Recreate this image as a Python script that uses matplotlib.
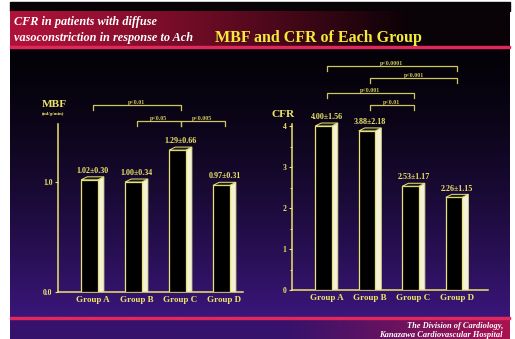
import numpy as np
import matplotlib
matplotlib.use('Agg')
import matplotlib.pyplot as plt
from matplotlib.patches import Polygon, Rectangle

plt.rcParams['font.family'] = ['Liberation Serif', 'DejaVu Serif']

# data
groups = ['Group A', 'Group B', 'Group C', 'Group D']
mbf_mean = [1.02, 1.00, 1.29, 0.97]
mbf_sd = [0.30, 0.34, 0.66, 0.31]
cfr_mean = [4.00, 3.88, 2.53, 2.26]
cfr_sd = [1.56, 2.18, 1.17, 1.15]
mbf_pairs = [(0, 2, 'p<0.01'), (1, 2, 'p<0.05'), (2, 3, 'p<0.005')]
cfr_pairs = [(0, 3, 'p<0.0001'), (1, 3, 'p<0.001'), (0, 2, 'p<0.001'), (1, 2, 'p<0.01')]

W, H = 515, 339
YEL = '#ece46a'
BRK = '#cdc65c'

fig = plt.figure(figsize=(W / 100, H / 100), dpi=100)
fig.patch.set_facecolor('white')


def px(x, y):
    return x / W, 1 - y / H


# ---------- background slide ----------
bg = fig.add_axes([0, 0, 1, 1])
bg.set_xlim(0, W)
bg.set_ylim(H, 0)
bg.axis('off')

# main dark area: black at top, purple toward bottom
t = np.linspace(0, 1, 200)[:, None]
top = np.array([4, 2, 8]) / 255
bot = np.array([58, 22, 122]) / 255
grad = top + (bot - top) * (t ** 1.5)[..., None]
grad = np.repeat(grad, 2, axis=1)
bg.imshow(grad, extent=[10, 510, 317, 47], aspect='auto', zorder=0)

# black strip above title band
bg.add_patch(Rectangle((10, 2), 500, 9, color='#080306', zorder=1))

# red title band fading to dark on the right
u = np.linspace(0, 1, 300)[None, :]
c0 = np.array([176, 18, 58]) / 255
c1 = np.array([10, 2, 6]) / 255
band = c0 + (c1 - c0) * np.clip(u / 0.8, 0, 1)[..., None] ** 1.2
band = np.repeat(band, 2, axis=0)
bg.imshow(band, extent=[10, 510, 46, 11], aspect='auto', zorder=1)
bg.add_patch(Rectangle((10, 45.5), 500, 2.2, color='#e0285a', zorder=2))

# bottom band purple -> magenta
c2 = np.array([54, 18, 108]) / 255
c3 = np.array([170, 18, 80]) / 255
band2 = c2 + (c3 - c2) * (np.clip((u - 0.55) / 0.45, 0, 1) ** 1.1)[..., None]
band2 = np.repeat(band2, 2, axis=0)
bg.imshow(band2, extent=[10, 510, 339, 318], aspect='auto', zorder=1)
bg.add_patch(Rectangle((10, 316.5), 500, 2, color='#e0285a', zorder=2))

# titles
fig.text(*px(14, 25), 'CFR in patients with diffuse', color='white',
         fontsize=8.8, fontweight='bold', fontstyle='italic')
fig.text(*px(14, 41), 'vasoconstriction in response to Ach', color='white',
         fontsize=8.8, fontweight='bold', fontstyle='italic')
fig.text(*px(215, 42), 'MBF and CFR of Each Group', color='#f2ea3c',
         fontsize=11.5, fontweight='bold')
fig.text(*px(503, 328), 'The Division of Cardiology,', color='white', ha='right',
         fontsize=6, fontweight='bold', fontstyle='italic')
fig.text(*px(503, 337), 'Kanazawa Cardiovascular Hospital', color='white', ha='right',
         fontsize=6, fontweight='bold', fontstyle='italic')


def make_axes(x0, x1, ybase, ytop, xlim, ylim):
    ax = fig.add_axes([x0 / W, (H - ybase) / H, (x1 - x0) / W, (ybase - ytop) / H])
    ax.set_xlim(*xlim)
    ax.set_ylim(*ylim)
    ax.patch.set_visible(False)
    for s in ['top', 'right']:
        ax.spines[s].set_visible(False)
    for s in ['left', 'bottom']:
        ax.spines[s].set_color(YEL)
        ax.spines[s].set_linewidth(1.1)
    ax.tick_params(colors=YEL, labelsize=5.5, length=2, width=0.8, pad=2)
    ax.tick_params(axis='x', length=0, pad=3, labelsize=6.5)
    return ax


def draw_bars(ax, means, sds, depth_px=3):
    y0, y1 = ax.get_ylim()
    h_px = ax.get_position().height * H
    dy = depth_px * (y1 - y0) / h_px
    xl_off, xr_off, dx = -0.26, 0.12, 0.14
    for i, (m, s) in enumerate(zip(means, sds)):
        xl, xr = i + xl_off, i + xr_off
        side = Polygon([(xr, 0), (xr + dx, 0), (xr + dx, m + dy), (xr, m)],
                       closed=True, facecolor='#f3f1d8', edgecolor='#d8d27a', lw=0.6, zorder=3)
        ax.add_patch(side)
        ax.bar(i + (xl_off + xr_off) / 2, m, width=xr - xl, color='black',
               edgecolor='#e8e27a', linewidth=0.9, zorder=4)
        topf = Polygon([(xl, m), (xr, m), (xr + dx, m + dy), (xl + dx, m + dy)],
                       closed=True, facecolor='#1a1a10', edgecolor='#e8e27a', lw=0.7, zorder=5)
        ax.add_patch(topf)
        ax.text(i, m + dy * 1.6, f'{m:.2f}\u00b1{s:.2f}', ha='center', va='bottom',
                color=YEL, fontsize=5.8, fontweight='bold', zorder=6)


def draw_brackets(ax, pairs, levels, tick):
    for (a, b, txt), y in zip(pairs, levels):
        ax.plot([a, a, b, b], [y - tick, y, y, y - tick], color=BRK, lw=0.9,
                clip_on=False, zorder=2)
        ax.text((a + b) / 2, y + tick * 0.1, txt, ha='center', va='bottom',
                color=BRK, fontsize=4.3, fontweight='bold')


xpos = np.arange(len(groups))

# ---------- MBF panel ----------
ax1 = make_axes(58, 243, 292, 60, (-0.784, 3.42), (0, 232 / 110))
ax1.spines['left'].set_bounds(0, 1.53)
ax1.set_yticks([0, 1.0])
ax1.set_yticklabels(['0.0', '1.0'])
ax1.set_xticks(xpos)
ax1.set_xticklabels(groups)
for lab in ax1.get_yticklabels() + ax1.get_xticklabels():
    lab.set_fontweight('bold')
draw_bars(ax1, mbf_mean, mbf_sd)
draw_brackets(ax1, mbf_pairs, [1.70, 1.55, 1.55], 0.045)
fig.text(*px(42, 107), 'MBF', color=YEL, fontsize=8.2, fontweight='bold')
fig.text(*px(42, 115), '(ml/g/min)', color=YEL, fontsize=3.6, fontweight='bold')

# ---------- CFR panel ----------
ax2 = make_axes(292, 488, 290, 55, (-0.793, 3.71), (0, 235 / 41))
ax2.spines['left'].set_bounds(0, 4.05)
ax2.set_yticks([0, 1, 2, 3, 4])
ax2.set_yticks(np.arange(0.5, 4, 1.0), minor=True)
ax2.tick_params(axis='y', which='minor', colors=YEL, length=1.5, width=0.7)
ax2.set_xticks(xpos)
ax2.set_xticklabels(groups)
for lab in ax2.get_yticklabels() + ax2.get_xticklabels():
    lab.set_fontweight('bold')
draw_bars(ax2, cfr_mean, cfr_sd)
draw_brackets(ax2, cfr_pairs, [5.46, 5.17, 4.80, 4.51], 0.12)
fig.text(*px(271, 117), 'CFR', color=YEL, fontsize=8.2, fontweight='bold')

fig.savefig('out.png', dpi=100, facecolor=fig.get_facecolor())
